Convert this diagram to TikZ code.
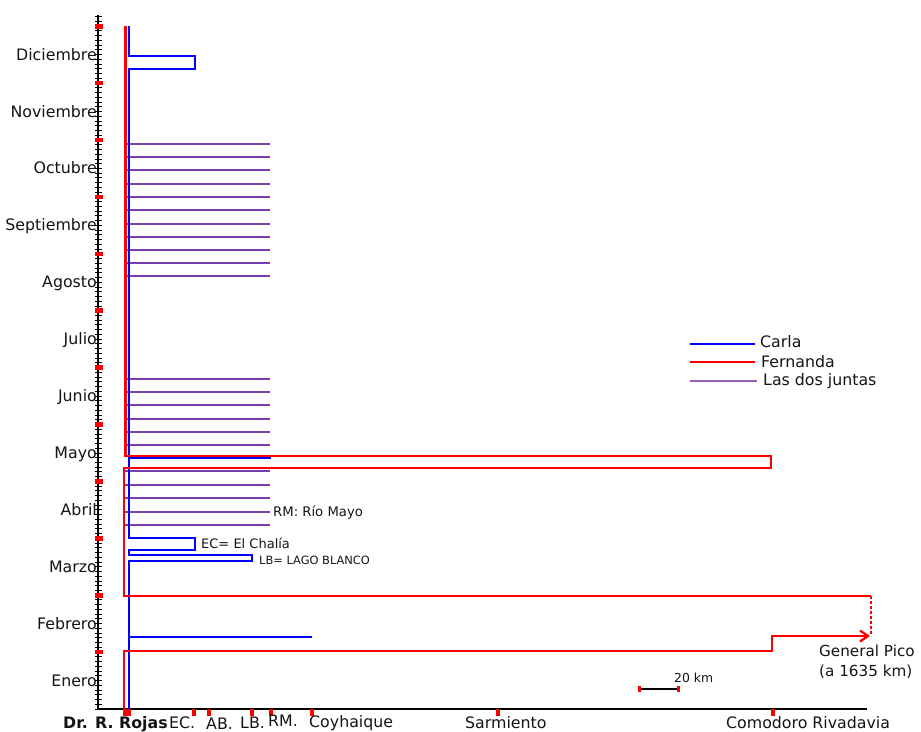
\documentclass[tikz,border=0pt]{standalone}
\usepackage{fontspec}
\setmainfont{DejaVu Sans}
\usetikzlibrary{arrows.meta}
\definecolor{carla}{RGB}{0,0,255}
\definecolor{fer}{RGB}{250,0,0}
\definecolor{dos}{RGB}{122,62,172}
\definecolor{dosleg}{RGB}{150,95,190}
\definecolor{txt}{RGB}{20,20,20}
\tikzset{
  fs/.style={font=\fontsize{#1}{#1}\selectfont},
  lbl/.style={inner sep=0pt, text=txt},
  monthlbl/.style={lbl, anchor=base east, fs=15.8},
  placelbl/.style={lbl, anchor=base west, fs=15.8},
  carlaline/.style={draw=carla, line width=2.3pt},
  ferline/.style={draw=fer, line width=2.3pt},
  dosline/.style={draw=dos, line width=2.9pt},
  redmark/.style={fill=fer},
}
\begin{document}
\begin{tikzpicture}[x=1pt,y=-1pt]
\useasboundingbox (0,0) rectangle (921,731);
% minor ticks
\foreach \i in {0,...,146}
  \draw[black, line width=0.9pt] (95,{709-\i*56.9/12}) -- (102,{709-\i*56.9/12});
% axes
\draw[black, line width=1.2pt] (98,15) -- (98,709) -- (867,709);
% month marks
\foreach \k in {1,...,12}
  \fill[redmark] (95,{709-56.9*\k-2.3}) rectangle (103,{709-56.9*\k+2.3});
% month labels
\foreach \n [count=\k from 0] in {Enero,Febrero,Marzo,Abril,Mayo,Junio,Julio,Agosto,Septiembre,Octubre,Noviembre,Diciembre}
  \node[monthlbl] (m\k) at (97,{709-56.9*(\k+0.5)+5.5}) {\n};
% bottom ticks
\fill[redmark] (123,709) rectangle (131,716);
\foreach \x in {194,209,252,271,312,498,773}
  \fill[redmark] (\x-1.7,709) rectangle (\x+1.7,716);
% bottom labels
\node[placelbl, font=\fontsize{15.8}{15.8}\selectfont\bfseries] (rojas) at (63,728) {Dr. R. Rojas};
\node[placelbl] (ec) at (169,728) {EC.};
\node[placelbl] (ab) at (206,729) {AB.};
\node[placelbl] (lb) at (240,728) {LB.};
\node[placelbl] (rm) at (268,726) {RM.};
\node[placelbl] (coy) at (309,727) {Coyhaique};
\node[placelbl] (sar) at (465,728) {Sarmiento};
\node[placelbl] (com) at (726,728) {Comodoro Rivadavia};
% purple (both together)
\foreach \y in {144,157,170,184,197,210,224,237,250,263,276,379,392,405,419,432,445,471,485,498,512,525}
  \draw[dosline] (125,\y) -- (270,\y);
% Carla
\draw[carlaline] (129,26) -- (129,56) -- (195,56) -- (195,69) -- (129,69) -- (129,538)
  -- (195,538) -- (195,550) -- (129,550) -- (129,555) -- (252,555) -- (252,561) -- (129,561) -- (129,709);
\draw[carlaline] (129,458) -- (271,458);
\draw[carlaline] (129,637) -- (312,637);
% Fernanda
\draw[ferline] (125.5,26) -- (125.5,456) -- (771,456) -- (771,468) -- (124,468) -- (124,596) -- (871,596);
\draw[ferline, dash pattern=on 3pt off 2pt] (871,596) -- (871,636);
\draw[ferline, -{Straight Barb[length=8pt,width=11pt]}] (124,709) -- (124,651) -- (772,651) -- (772,636) -- (870,636);
% annotations
\node[lbl, anchor=base west, fs=13.2] (rmn) at (273,516) {RM: Río Mayo};
\node[lbl, anchor=base west, fs=13] (ecn) at (201,548) {EC= El Chalía};
\node[lbl, anchor=base west, fs=11.4] (lbn) at (259,564) {LB= LAGO BLANCO};
\node[lbl, anchor=base west, fs=15.2] (gp1) at (819,656) {General Pico};
\node[lbl, anchor=base west, fs=15.2] (gp2) at (819,676) {(a 1635 km)};
% scale bar
\draw[black, line width=1.6pt] (639,689) -- (678,689);
\fill[redmark] (637.5,686) rectangle (640.5,692);
\fill[redmark] (676.5,686) rectangle (679.5,692);
\node[lbl, anchor=base west, fs=12.4] (km) at (674,682) {20 km};
% legend
\draw[carlaline] (690,344) -- (755,344);
\draw[ferline] (690,362) -- (755,362);
\draw[draw=dosleg, line width=2.9pt] (690,381) -- (757,381);
\node[placelbl] (lc) at (760,347) {Carla};
\node[placelbl] (lf) at (761,367) {Fernanda};
\node[placelbl] (ld) at (763,385) {Las dos juntas};
\end{tikzpicture}
\end{document}
